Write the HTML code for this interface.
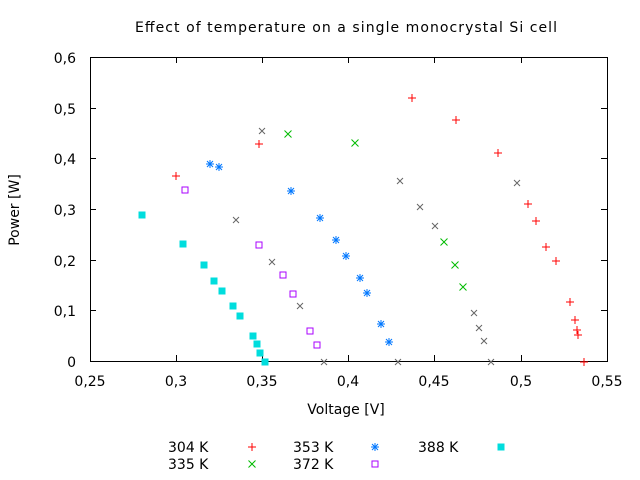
<!DOCTYPE html>
<html><head><meta charset="utf-8"><style>body{margin:0;background:#fff}svg{display:block}text{font-family:"DejaVu Sans","Liberation Sans",sans-serif;font-size:14px;fill:#000}</style></head><body>
<svg width="640" height="480" xmlns="http://www.w3.org/2000/svg">
<defs>
<g id="p"><path d="M-4,0H4M0,-4V4" stroke="#f00" stroke-width="1"/></g>
<g id="x"><path d="M-3.5,-3.5L3.5,3.5M-3.5,3.5L3.5,-3.5" stroke="#0b0" stroke-width="1"/></g>
<g id="g"><path d="M-3,-3L3,3M-3,3L3,-3" stroke="#666" stroke-width="1"/></g>
<g id="s"><path d="M-4,0H4M0,-4V4M-3,-3L3,3M-3,3L3,-3" stroke="#07f" stroke-width="1"/></g>
<rect id="o" x="-3" y="-3" width="6" height="6" fill="none" stroke="#a0f" stroke-width="1"/>
<rect id="f" x="-3.5" y="-3.5" width="7" height="7" fill="#0dd"/>
</defs>
<text x="135" y="32" textLength="422" lengthAdjust="spacing">Effect of temperature on a single monocrystal Si cell</text>
<rect x="90.5" y="57.5" width="517" height="304" fill="none" stroke="#000"/>
<g stroke="#000">
<path d="M90,361.5h6M90,310.5h6M90,260.5h6M90,209.5h6M90,158.5h6M90,108.5h6M90,57.5h6M607,361.5h-6M607,310.5h-6M607,260.5h-6M607,209.5h-6M607,158.5h-6M607,108.5h-6"/>
<path d="M176.5,361v-6M262.5,361v-6M348.5,361v-6M434.5,361v-6M521.5,361v-6M176.5,57v6M262.5,57v6M348.5,57v6M434.5,57v6M521.5,57v6"/>
</g>
<g text-anchor="end"><text x="76" y="367">0</text><text x="76" y="316">0,1</text><text x="76" y="266">0,2</text><text x="76" y="215">0,3</text><text x="76" y="164">0,4</text><text x="76" y="114">0,5</text><text x="76" y="63">0,6</text></g>
<g text-anchor="middle"><text x="90" y="386">0,25</text><text x="176" y="386">0,3</text><text x="262" y="386">0,35</text><text x="348" y="386">0,4</text><text x="434" y="386">0,45</text><text x="521" y="386">0,5</text><text x="607" y="386">0,55</text>
<text x="346" y="414">Voltage [V]</text>
<text transform="translate(19,210) rotate(-90)">Power [W]</text></g>
<g>
<use href="#p" x="412" y="98"/><use href="#p" x="456" y="120"/><use href="#p" x="498" y="153"/><use href="#p" x="528" y="204"/><use href="#p" x="536" y="221"/><use href="#p" x="546" y="247"/><use href="#p" x="556" y="261"/><use href="#p" x="570" y="302"/><use href="#p" x="575" y="320"/><use href="#p" x="577" y="330"/><use href="#p" x="578" y="335"/><use href="#p" x="584" y="362"/><use href="#p" x="259" y="144"/><use href="#p" x="176" y="176"/>
<use href="#x" x="288" y="134"/><use href="#x" x="355" y="143"/><use href="#x" x="444" y="242"/><use href="#x" x="455" y="265"/><use href="#x" x="463" y="287"/>
<use href="#g" x="262" y="131"/><use href="#g" x="236" y="220"/><use href="#g" x="272" y="262"/><use href="#g" x="300" y="306"/><use href="#g" x="324" y="362"/><use href="#g" x="400" y="181"/><use href="#g" x="420" y="207"/><use href="#g" x="435" y="226"/><use href="#g" x="474" y="313"/><use href="#g" x="479" y="328"/><use href="#g" x="484" y="341"/><use href="#g" x="491" y="362"/><use href="#g" x="517" y="183"/><use href="#g" x="398" y="362"/>
<use href="#s" x="210" y="164"/><use href="#s" x="219" y="167"/><use href="#s" x="291" y="191"/><use href="#s" x="320" y="218"/><use href="#s" x="336" y="240"/><use href="#s" x="346" y="256"/><use href="#s" x="360" y="278"/><use href="#s" x="367" y="293"/><use href="#s" x="381" y="324"/><use href="#s" x="389" y="342"/>
<use href="#o" x="185" y="190"/><use href="#o" x="259" y="245"/><use href="#o" x="283" y="275"/><use href="#o" x="293" y="294"/><use href="#o" x="310" y="331"/><use href="#o" x="317" y="345"/>
<use href="#f" x="142" y="215"/><use href="#f" x="183" y="244"/><use href="#f" x="204" y="265"/><use href="#f" x="214" y="281"/><use href="#f" x="222" y="291"/><use href="#f" x="233" y="306"/><use href="#f" x="240" y="316"/><use href="#f" x="253" y="336"/><use href="#f" x="257" y="344"/><use href="#f" x="260" y="353"/><use href="#f" x="265" y="362"/>
</g>
<text x="168" y="452">304 K</text><use href="#p" x="252" y="447"/>
<text x="168" y="469">335 K</text><use href="#x" x="252" y="464"/>
<text x="293" y="452">353 K</text><use href="#s" x="375" y="447"/>
<text x="293" y="469">372 K</text><use href="#o" x="375" y="464"/>
<text x="418" y="452">388 K</text><use href="#f" x="501" y="447"/>
</svg>
</body></html>
